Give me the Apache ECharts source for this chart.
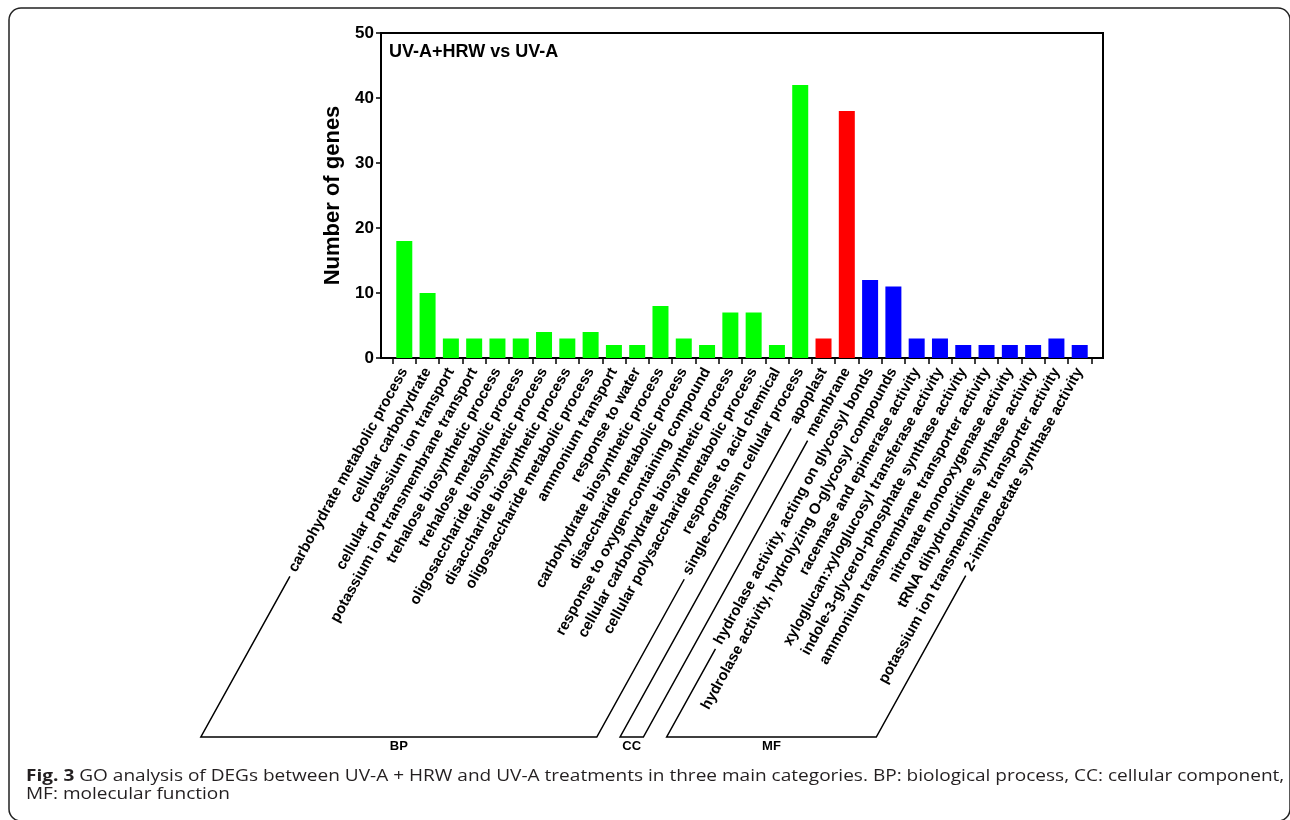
<!DOCTYPE html>
<html>
<head>
<meta charset="utf-8">
<script src="https://cdn.jsdelivr.net/npm/echarts@6/dist/echarts.min.js"></script>
<style>
  html, body { margin: 0; padding: 0; background: #ffffff; }
  #chart { width: 1290px; height: 820px; }
</style>
</head>
<body>
<div id="chart"></div>
<script>
// GO terms and gene counts, grouped by main category
const bpTerms = [
  'carbohydrate metabolic process',
  'cellular carbohydrate',
  'cellular potassium ion transport',
  'potassium ion transmembrane transport',
  'trehalose biosynthetic process',
  'trehalose metabolic process',
  'oligosaccharide biosynthetic process',
  'disaccharide biosynthetic process',
  'oligosaccharide metabolic process',
  'ammonium transport',
  'response to water',
  'carbohydrate biosynthetic process',
  'disaccharide metabolic process',
  'response to oxygen-containing compound',
  'cellular carbohydrate biosynthetic process',
  'cellular polysaccharide metabolic process',
  'response to acid chemical',
  'single-organism cellular process'
];
const bpCounts = [18, 10, 3, 3, 3, 3, 4, 3, 4, 2, 2, 8, 3, 2, 7, 7, 2, 42];

const ccTerms = ['apoplast', 'membrane'];
const ccCounts = [3, 38];

const mfTerms = [
  'hydrolase activity, acting on glycosyl bonds',
  'hydrolase activity, hydrolyzing O-glycosyl compounds',
  'racemase and epimerase activity',
  'xyloglucan:xyloglucosyl transferase activity',
  'indole-3-glycerol-phosphate synthase activity',
  'ammonium transmembrane transporter activity',
  'nitronate monooxygenase activity',
  'tRNA dihydrouridine synthase activity',
  'potassium ion transmembrane transporter activity',
  '2-iminoacetate synthase activity'
];
const mfCounts = [12, 11, 3, 3, 2, 2, 2, 2, 3, 2];

const groupNames = ['BP', 'CC', 'MF'];
const groupColors = ['#00ff00', '#ff0000', '#0000ff'];
const yTicks = [0, 10, 20, 30, 40, 50];

const chartTitle = 'UV-A+HRW vs UV-A';
const yName = 'Number of genes';
const captionBold = 'Fig. 3';
const captionLine1 = ' GO analysis of DEGs between UV-A + HRW and UV-A treatments in three main categories. BP: biological process, CC: cellular component,';
const captionLine2 = 'MF: molecular function';

// flatten the groups into one ordered list of bars
const groups = [
  { terms: bpTerms, counts: bpCounts },
  { terms: ccTerms, counts: ccCounts },
  { terms: mfTerms, counts: mfCounts }
];
const allTerms = [];
const barData = [];
const groupRanges = [];
groups.forEach((g, gi) => {
  const first = allTerms.length;
  g.terms.forEach((t, k) => {
    const idx = allTerms.length;
    allTerms.push(t);
    barData.push({ value: [idx, g.counts[k]], itemStyle: { color: groupColors[gi] } });
  });
  groupRanges.push([first, allTerms.length - 1]);
});
const n = allTerms.length;
const labelValues = allTerms.map((_, i) => i);
const tickValues = [];
for (let i = 0; i <= n; i++) tickValues.push(i - 0.5);

const FONT = 'Arial, "Liberation Sans", Helvetica, sans-serif';
const CAPTION_FONT = '"Open Sans", "Noto Sans", sans-serif';
const LABEL_SIZE = 15;
const LABEL_ROT = 61;
const LABEL_MARGIN = 11;

const chart = echarts.init(document.getElementById('chart'), null, { renderer: 'canvas' });

const option = {
  backgroundColor: '#ffffff',
  animation: false,
  title: {
    text: chartTitle,
    left: 389, top: 43,
    padding: 0,
    textStyle: { fontFamily: FONT, fontWeight: 'bold', fontSize: 18, color: '#000' }
  },
  grid: {
    left: 381, right: 187, top: 33, bottom: 462,
    containLabel: false, outerBoundsMode: 'none',
    show: true, borderColor: '#000', borderWidth: 2, backgroundColor: 'transparent'
  },
  xAxis: {
    type: 'value',
    min: -1, max: n,
    interval: 1,
    splitLine: { show: false },
    axisLine: { show: true, onZero: false, lineStyle: { color: '#000', width: 2 } },
    axisTick: { show: true, inside: false, length: 6, customValues: tickValues, lineStyle: { color: '#000', width: 1.5 } },
    axisLabel: {
      show: true,
      customValues: labelValues,
      rotate: LABEL_ROT,
      margin: LABEL_MARGIN,
      fontFamily: FONT, fontWeight: 'bold', fontSize: LABEL_SIZE, color: '#000',
      hideOverlap: false,
      formatter: v => (Number.isInteger(v) && v >= 0 && v < n) ? allTerms[v] : ''
    }
  },
  yAxis: {
    type: 'value',
    min: 0, max: 50, interval: 10,
    name: yName,
    nameLocation: 'middle',
    nameGap: 25,
    nameTextStyle: { fontFamily: FONT, fontWeight: 'bold', fontSize: 22, color: '#000' },
    splitLine: { show: false },
    axisLine: { show: true, onZero: false, lineStyle: { color: '#000', width: 2 } },
    axisTick: { show: true, inside: false, length: 5, lineStyle: { color: '#000', width: 1.5 } },
    axisLabel: {
      margin: 7,
      fontFamily: FONT, fontWeight: 'bold', fontSize: 17, color: '#000',
      formatter: v => yTicks.includes(v) ? String(v) : ''
    }
  },
  series: [{
    type: 'bar',
    barWidth: 16,
    data: barData,
    itemStyle: { borderWidth: 0 }
  }]
};
chart.setOption(option);

// category brackets: extend the slanted direction of the outermost labels
// of each group down to a common baseline and join them there
function buildOverlay() {
  const ctx = document.createElement('canvas').getContext('2d');
  ctx.font = 'bold ' + LABEL_SIZE + 'px ' + FONT;
  const axisY = chart.convertToPixel({ yAxisIndex: 0 }, 0);
  const rad = LABEL_ROT * Math.PI / 180;
  const dx = Math.cos(rad), dy = Math.sin(rad);
  const baseY = 737;
  const gap = 5;

  function lowerEnd(i) {
    const ax = chart.convertToPixel({ xAxisIndex: 0 }, i);
    const ay = axisY + LABEL_MARGIN + 1;
    const w = ctx.measureText(allTerms[i]).width;
    const sx = ax - dx * (w + gap);
    const sy = ay + dy * (w + gap);
    const bx = sx - (baseY - sy) * dx / dy;
    return { sx, sy, bx };
  }

  const elements = [];
  groupRanges.forEach((r, gi) => {
    const a = lowerEnd(r[0]);
    const b = lowerEnd(r[1]);
    elements.push({
      type: 'polyline',
      shape: { points: [[a.sx, a.sy], [a.bx, baseY], [b.bx, baseY], [b.sx, b.sy]] },
      style: { stroke: '#000', lineWidth: 1.5, fill: null }
    });
    elements.push({
      type: 'text',
      x: (a.bx + b.bx) / 2, y: baseY + 3,
      style: {
        text: groupNames[gi], fill: '#000',
        font: 'bold 13px ' + FONT,
        textAlign: 'center', textVerticalAlign: 'top'
      }
    });
  });

  // figure caption, two lines, bold figure number
  elements.push({
    type: 'text',
    x: 26, y: 767,
    scaleX: 1.19,
    style: {
      text: '{b|' + captionBold + '}' + captionLine1 + '\n' + captionLine2,
      fontFamily: CAPTION_FONT, fontSize: 16, lineHeight: 18, fill: '#231f20',
      textAlign: 'left', textVerticalAlign: 'top',
      rich: { b: { fontFamily: CAPTION_FONT, fontWeight: 'bold', fontSize: 16, lineHeight: 18, fill: '#231f20' } }
    }
  });

  // rounded frame around the whole figure
  elements.push({
    type: 'rect',
    shape: { x: 9, y: 8, width: 1281, height: 813, r: 12 },
    style: { stroke: '#222', lineWidth: 1.5, fill: null },
    z: -1
  });

  chart.setOption({ graphic: { elements } });
}
buildOverlay();
</script>
</body>
</html>
